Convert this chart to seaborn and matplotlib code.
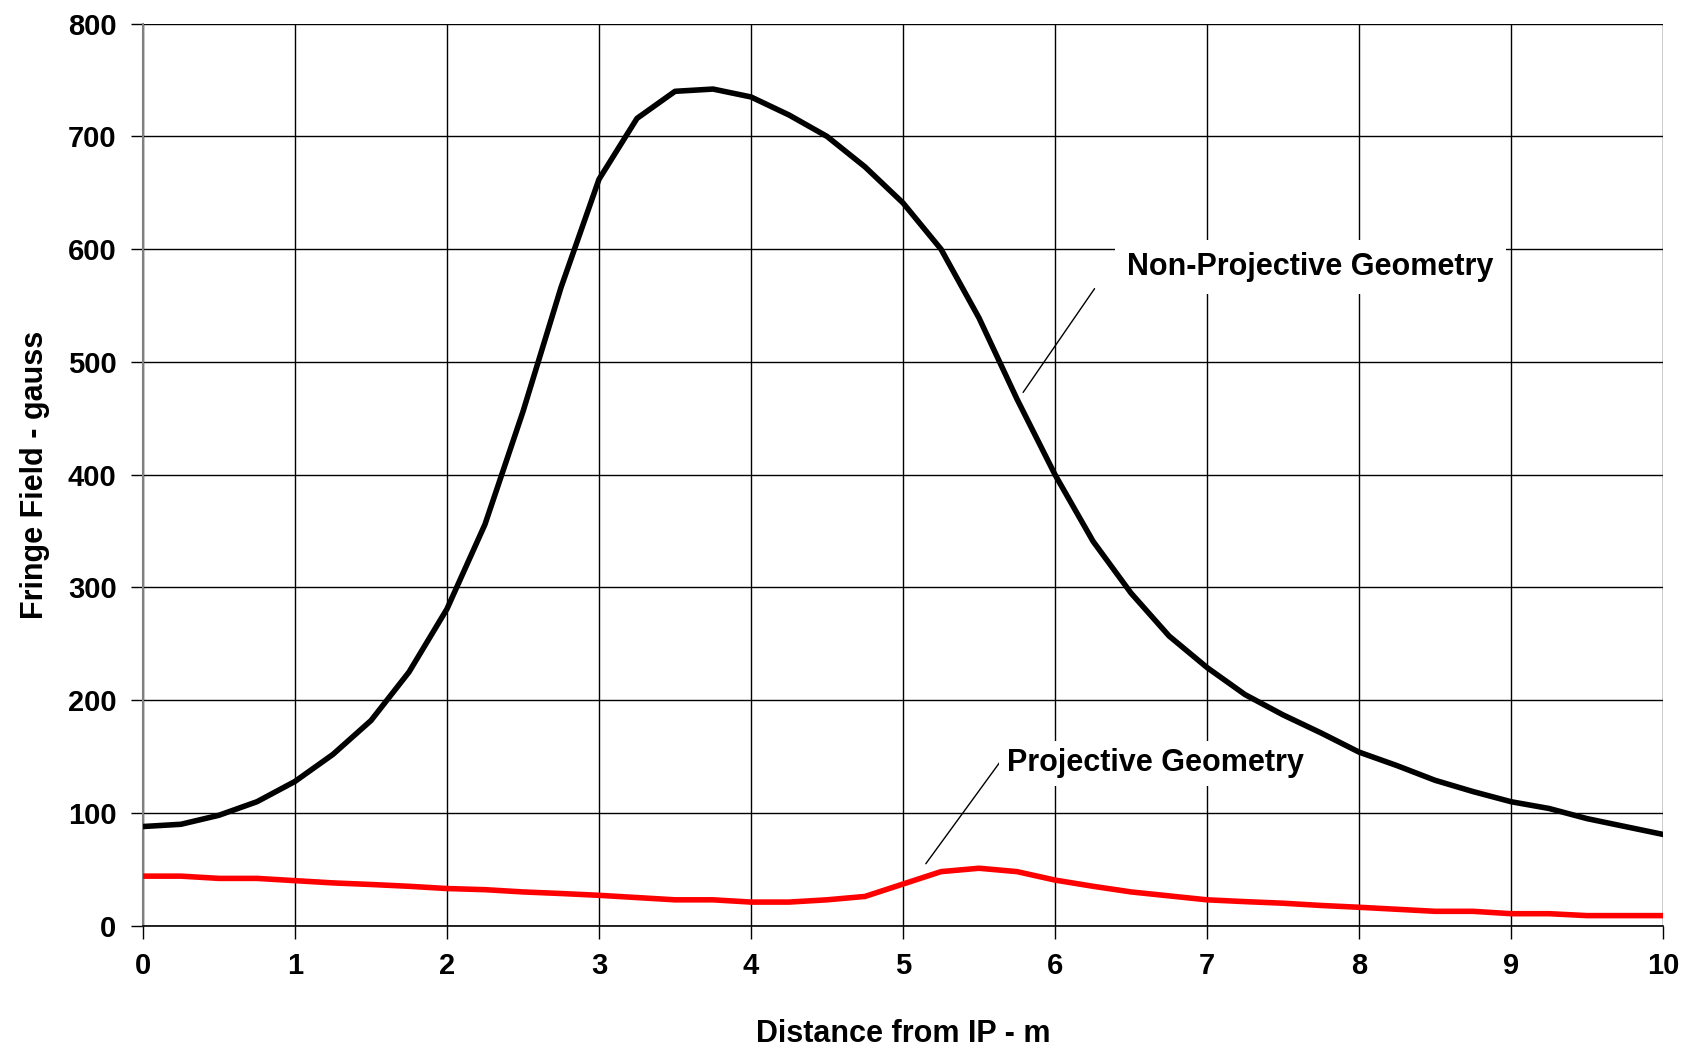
import numpy as np
import pandas as pd
import matplotlib
matplotlib.use("Agg")
import matplotlib.pyplot as plt
import seaborn as sns

distance = [0, 0.25, 0.5, 0.75, 1.0, 1.25, 1.5, 1.75, 2.0, 2.25, 2.5, 2.75, 3.0, 3.25, 3.5, 3.75,
            4.0, 4.25, 4.5, 4.75, 5.0, 5.25, 5.5, 5.75, 6.0, 6.25, 6.5, 6.75, 7.0, 7.25, 7.5, 7.75,
            8.0, 8.25, 8.5, 8.75, 9.0, 9.25, 9.5, 9.75, 10.0]
non_projective = [88, 90, 98, 110, 128, 152, 182, 225, 281, 356, 456, 566, 662, 716, 740, 742,
                  735, 719, 700, 673, 641, 600, 539, 467, 400, 341, 295, 257, 229, 205, 187, 171,
                  154, 142, 129, 119, 110, 104, 95, 88, 81]
projective = [44, 44, 42, 42, 40, 38, 36.6, 35, 33, 32, 30, 28.6, 27, 25, 23, 23,
              21, 21, 23, 26, 37, 48, 51, 48, 40.5, 35, 30, 26.5, 23, 21.4, 20, 18,
              16.4, 14.6, 12.8, 12.8, 10.7, 10.7, 9, 9, 9]
series_names = ["Non-Projective Geometry", "Projective Geometry"]
x_ticks = list(range(0, 11))
y_ticks = list(range(0, 801, 100))

df = pd.DataFrame({
    "distance": distance * 2,
    "field": non_projective + projective,
    "series": [series_names[0]] * len(distance) + [series_names[1]] * len(distance),
})

sns.set_style("white")
plt.rcParams['font.family'] = ['Liberation Sans', 'DejaVu Sans']
plt.rcParams['text.color'] = 'black'
plt.rcParams['axes.labelcolor'] = 'black'
plt.rcParams['xtick.color'] = 'black'
plt.rcParams['ytick.color'] = 'black'

fig = plt.figure(figsize=(16.86, 10.47), dpi=100)
ax = fig.add_axes([0.0848, 0.1158, 0.9864 - 0.0848, 0.9774 - 0.1158])

sns.lineplot(data=df, x="distance", y="field", hue="series",
             palette={series_names[0]: "black", series_names[1]: "#ff0000"},
             linewidth=4.0, ax=ax, legend=False, zorder=3)

ax.set_xlim(0, 10)
ax.set_ylim(0, 800)
ax.set_xticks(x_ticks)
ax.set_yticks(y_ticks)
ax.grid(True, color="black", linewidth=1.0, zorder=0)
ax.set_axisbelow(True)
for s in ["top", "right"]:
    ax.spines[s].set_visible(False)
ax.spines["left"].set_color("#808080")
ax.spines["left"].set_linewidth(1.5)
ax.spines["bottom"].set_color("black")
ax.spines["bottom"].set_linewidth(1.2)
ax.tick_params(axis="both", which="both", direction="out", length=9, width=1.0,
               color="black", labelcolor="black", labelsize=21, pad=10,
               bottom=True, left=True)
for lab in ax.get_xticklabels() + ax.get_yticklabels():
    lab.set_fontweight("bold")

ax.set_xlabel("Distance from IP - m", fontsize=22, fontweight="bold", labelpad=28, color="black")
ax.set_ylabel("Fringe Field - gauss", fontsize=22, fontweight="bold", labelpad=13, color="black")

# leader lines
ax.annotate("", xy=(5.79, 473), xytext=(6.26, 565),
            arrowprops=dict(arrowstyle="-", color="black", lw=1.0, shrinkA=0, shrinkB=0),
            zorder=4)
ax.annotate("", xy=(5.15, 55), xytext=(5.68, 153),
            arrowprops=dict(arrowstyle="-", color="black", lw=1.0, shrinkA=0, shrinkB=0),
            zorder=4)

ax.text(7.68, 584, series_names[0], fontsize=22, fontweight="bold", color="black",
        ha="center", va="center", zorder=5,
        bbox=dict(boxstyle="square,pad=0.4", fc="white", ec="none"))
ax.text(6.66, 144, series_names[1], fontsize=22, fontweight="bold", color="black",
        ha="center", va="center", zorder=5,
        bbox=dict(boxstyle="square,pad=0.25", fc="white", ec="none"))

fig.savefig("out.png", dpi=100)
